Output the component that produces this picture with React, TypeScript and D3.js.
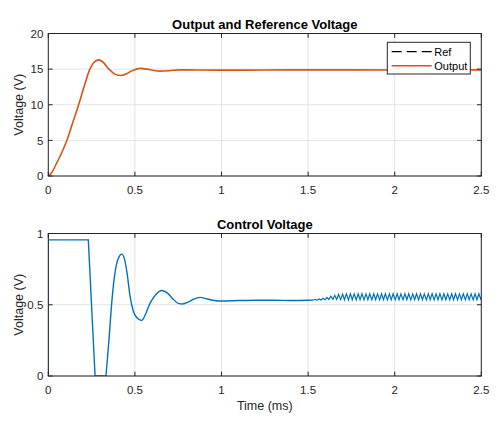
import React from 'react';
import * as d3 from 'd3';

// output voltage (V) vs time (ms)
const outputTime = [0, 0.02, 0.05, 0.08, 0.11, 0.14, 0.175, 0.21, 0.238, 0.262, 0.29, 0.315, 0.35, 0.385, 0.42, 0.455, 0.49, 0.53, 0.57, 0.61, 0.645, 0.7, 0.76, 0.85, 1.0, 1.5, 2.0, 2.5];
const outputVolt = [0, 0.5, 1.9, 3.4, 5.2, 7.4, 10, 12.8, 14.9, 15.9, 16.3, 16.0, 15.0, 14.3, 14.1, 14.4, 14.85, 15.1, 15.0, 14.8, 14.72, 14.78, 14.9, 14.88, 14.86, 14.9, 14.88, 14.9];
const seriesNames = ['Ref', 'Output'];

// control voltage: saturated start, then oscillation
const stepTime = [0, 0, 0.231, 0.27, 0.333];
const stepVolt = [0, 0.955, 0.955, 0, 0];
const ctrlTime = [0.333, 0.35, 0.366, 0.38, 0.395, 0.41, 0.424, 0.44, 0.455, 0.472, 0.49, 0.51, 0.539, 0.56, 0.58, 0.597, 0.62, 0.655, 0.69, 0.72, 0.75, 0.776, 0.81, 0.84, 0.876, 0.92, 0.96, 1.0, 1.1, 1.2, 1.3, 1.4, 1.5, 1.53];
const ctrlVolt = [0, 0.25, 0.51, 0.68, 0.79, 0.84, 0.855, 0.82, 0.72, 0.56, 0.46, 0.41, 0.39, 0.43, 0.49, 0.53, 0.57, 0.6, 0.58, 0.54, 0.51, 0.505, 0.52, 0.54, 0.552, 0.54, 0.53, 0.526, 0.53, 0.532, 0.532, 0.53, 0.532, 0.533];
// limit-cycle ripple from ~1.53 ms
const rippleTime = [1.530, 1.541, 1.553, 1.564, 1.575, 1.586, 1.598, 1.609, 1.620, 1.631, 1.643, 1.654, 1.665, 1.676, 1.688, 1.699, 1.710, 1.721, 1.733, 1.744, 1.755, 1.766, 1.778, 1.789, 1.800, 1.811, 1.823, 1.834, 1.845, 1.856, 1.868, 1.879, 1.890, 1.901, 1.913, 1.924, 1.935, 1.946, 1.958, 1.969, 1.980, 1.991, 2.003, 2.014, 2.025, 2.036, 2.048, 2.059, 2.070, 2.081, 2.093, 2.104, 2.115, 2.126, 2.138, 2.149, 2.160, 2.171, 2.183, 2.194, 2.205, 2.216, 2.228, 2.239, 2.250, 2.261, 2.273, 2.284, 2.295, 2.306, 2.318, 2.329, 2.340, 2.351, 2.363, 2.374, 2.385, 2.396, 2.408, 2.419, 2.430, 2.441, 2.453, 2.464, 2.475, 2.486, 2.498, 2.5];
const rippleVolt = [0.533, 0.537, 0.532, 0.540, 0.533, 0.545, 0.535, 0.552, 0.537, 0.560, 0.538, 0.566, 0.537, 0.572, 0.536, 0.575, 0.535, 0.576, 0.534, 0.577, 0.535, 0.576, 0.534, 0.577, 0.535, 0.577, 0.534, 0.576, 0.535, 0.577, 0.534, 0.577, 0.535, 0.576, 0.534, 0.577, 0.535, 0.577, 0.534, 0.576, 0.535, 0.577, 0.534, 0.577, 0.535, 0.576, 0.534, 0.577, 0.535, 0.577, 0.534, 0.576, 0.535, 0.577, 0.534, 0.577, 0.535, 0.576, 0.534, 0.577, 0.535, 0.577, 0.534, 0.576, 0.535, 0.577, 0.534, 0.577, 0.535, 0.576, 0.534, 0.577, 0.535, 0.577, 0.534, 0.576, 0.535, 0.577, 0.534, 0.577, 0.535, 0.576, 0.534, 0.577, 0.535, 0.577, 0.534, 0.556];

const xTicks = [0, 0.5, 1, 1.5, 2, 2.5];
const yTicksTop = [0, 5, 10, 15, 20];
const yTicksBottom = [0, 0.5, 1];

const W = 504;
const H = 422;
const left = 48.3;
const right = 481.3;
const axisColor = '#262626';
const gridColor = '#e3e3e3';
const font = '"Liberation Sans", Arial, sans-serif';

type Pt = [number, number];
const zip = (a: number[], b: number[]): Pt[] => a.map((t, i) => [t, b[i]]);

interface AxesProps {
  top: number;
  bottom: number;
  yDomain: [number, number];
  yTicks: number[];
  title: string;
  xLabel?: string;
  children: (x: d3.ScaleLinear<number, number>, y: d3.ScaleLinear<number, number>) => React.ReactNode;
}

const Axes = (props: AxesProps) => {
  const { top, bottom, yDomain, yTicks, title, xLabel } = props;
  const x = d3.scaleLinear().domain([0, 2.5]).range([left, right]);
  const y = d3.scaleLinear().domain(yDomain).range([bottom, top]);
  const tk = 4.3;
  const clipId = 'clip' + Math.round(top);
  return (
    <g>
      <defs>
        <clipPath id={clipId}>
          <rect x={left} y={top} width={right - left} height={bottom - top} />
        </clipPath>
      </defs>
      {/* grid */}
      {xTicks.map((t) => (
        <line key={'gx' + t} x1={x(t)} x2={x(t)} y1={top} y2={bottom} stroke={gridColor} strokeWidth={1} />
      ))}
      {yTicks.map((t) => (
        <line key={'gy' + t} x1={left} x2={right} y1={y(t)} y2={y(t)} stroke={gridColor} strokeWidth={1} />
      ))}
      <g clipPath={`url(#${clipId})`}>{props.children(x, y)}</g>
      {/* box */}
      <rect x={left} y={top} width={right - left} height={bottom - top} fill="none" stroke={axisColor} strokeWidth={1} />
      {/* ticks */}
      {xTicks.map((t) => (
        <g key={'tx' + t}>
          <line x1={x(t)} x2={x(t)} y1={bottom} y2={bottom - tk} stroke={axisColor} />
          <line x1={x(t)} x2={x(t)} y1={top} y2={top + tk} stroke={axisColor} />
          <text x={x(t)} y={bottom + 18} textAnchor="middle" fontSize={11.5} fill={axisColor} fontFamily={font}>
            {t}
          </text>
        </g>
      ))}
      {yTicks.map((t) => (
        <g key={'ty' + t}>
          <line x1={left} x2={left + tk} y1={y(t)} y2={y(t)} stroke={axisColor} />
          <line x1={right} x2={right - tk} y1={y(t)} y2={y(t)} stroke={axisColor} />
          <text x={left - 5} y={y(t) + 4.2} textAnchor="end" fontSize={11.5} fill={axisColor} fontFamily={font}>
            {t}
          </text>
        </g>
      ))}
      <text x={(left + right) / 2} y={top - 5} textAnchor="middle" fontSize={13} fontWeight="bold" fill="#000" fontFamily={font}>
        {title}
      </text>
      <text
        transform={`translate(${22.8},${(top + bottom) / 2}) rotate(-90)`}
        textAnchor="middle"
        fontSize={12.5}
        fill={axisColor}
        fontFamily={font}
      >
        Voltage (V)
      </text>
      {xLabel && (
        <text x={(left + right) / 2} y={bottom + 34} textAnchor="middle" fontSize={12.5} fill={axisColor} fontFamily={font}>
          {xLabel}
        </text>
      )}
    </g>
  );
};

export default function App() {
  const outColor = '#D95319';
  const ctrlColor = '#0072BD';

  return (
    <svg width={W} height={H} style={{ position: 'absolute', left: 0, top: 0, background: '#fff' }}>
      <rect width={W} height={H} fill="#fff" />
      <Axes top={33.5} bottom={176} yDomain={[0, 20]} yTicks={yTicksTop} title="Output and Reference Voltage">
        {(x, y) => {
          const smooth = d3
            .line<Pt>()
            .x((d) => x(d[0]))
            .y((d) => y(d[1]))
            .curve(d3.curveMonotoneX);
          return <path d={smooth(zip(outputTime, outputVolt)) || ''} fill="none" stroke={outColor} strokeWidth={1.6} />;
        }}
      </Axes>
      <Axes top={233.5} bottom={376} yDomain={[0, 1]} yTicks={yTicksBottom} title="Control Voltage" xLabel="Time (ms)">
        {(x, y) => {
          const line = d3
            .line<Pt>()
            .x((d) => x(d[0]))
            .y((d) => y(d[1]));
          const smooth = d3
            .line<Pt>()
            .x((d) => x(d[0]))
            .y((d) => y(d[1]))
            .curve(d3.curveMonotoneX);
          return (
            <g>
              <path d={line(zip(stepTime, stepVolt)) || ''} fill="none" stroke={ctrlColor} strokeWidth={1.4} />
              <path d={smooth(zip(ctrlTime, ctrlVolt)) || ''} fill="none" stroke={ctrlColor} strokeWidth={1.4} />
              <path d={line(zip(rippleTime, rippleVolt)) || ''} fill="none" stroke={ctrlColor} strokeWidth={1.2} />
            </g>
          );
        }}
      </Axes>
      {/* legend */}
      <g fontFamily={font} fontSize={11} fill="#000">
        <rect x={387.3} y={42.3} width={83} height={31.7} fill="#fff" stroke={axisColor} strokeWidth={1} />
        <line x1={391.7} x2={431.7} y1={51.7} y2={51.7} stroke="#000" strokeWidth={1.2} strokeDasharray="10,5" />
        <text x={434.3} y={55.6}>{seriesNames[0]}</text>
        <line x1={391.7} x2={431.7} y1={65.7} y2={65.7} stroke={outColor} strokeWidth={1.4} />
        <text x={434.3} y={69.6}>{seriesNames[1]}</text>
      </g>
    </svg>
  );
}
